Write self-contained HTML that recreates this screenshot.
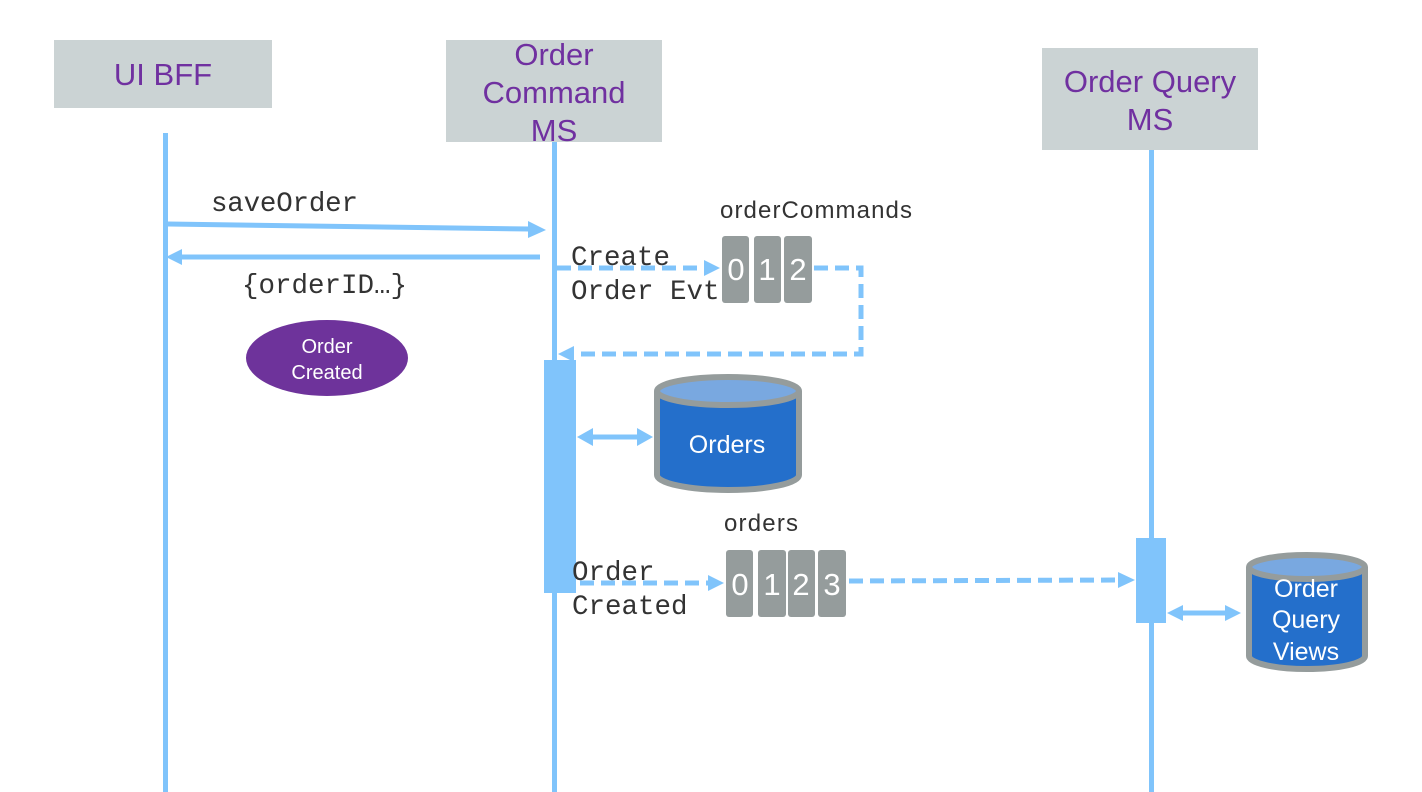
<!DOCTYPE html>
<html><head><meta charset="utf-8"><style>
html,body{margin:0;padding:0;background:#fff;}
svg{display:block}
.mono{font-family:"Liberation Mono",monospace;font-size:27.5px;fill:#333;}
.sans{font-family:"Liberation Sans",sans-serif;}
</style></head><body>
<svg width="1422" height="792" viewBox="0 0 1422 792" xmlns="http://www.w3.org/2000/svg">
<!-- header boxes -->
<rect x="54" y="40" width="218" height="68" fill="#cbd3d4"/>
<text x="163" y="85" class="sans" font-size="31" fill="#7030a0" text-anchor="middle">UI BFF</text>
<rect x="446" y="40" width="216" height="102" fill="#cbd3d4"/>
<text class="sans" font-size="31" fill="#7030a0" text-anchor="middle"><tspan x="554" y="65">Order</tspan><tspan x="554" y="103">Command</tspan><tspan x="554" y="141">MS</tspan></text>
<rect x="1042" y="48" width="216" height="102" fill="#cbd3d4"/>
<text class="sans" font-size="31" fill="#7030a0" text-anchor="middle"><tspan x="1150" y="92">Order Query</tspan><tspan x="1150" y="130">MS</tspan></text>
<!-- lifelines -->
<rect x="163" y="133" width="5" height="659" fill="#80c4fb"/>
<rect x="552" y="142" width="5" height="650" fill="#80c4fb"/>
<rect x="1149" y="150" width="5" height="642" fill="#80c4fb"/>
<!-- activations -->
<rect x="544" y="360" width="32" height="233" fill="#80c4fb"/>
<rect x="1136" y="538" width="30" height="85" fill="#80c4fb"/>
<!-- saveOrder -->
<line x1="168" y1="224" x2="530" y2="229" stroke="#80c4fb" stroke-width="5"/>
<polygon points="528,221 546,230 528,238" fill="#80c4fb"/>
<text x="211" y="211" class="mono" textLength="147">saveOrder</text>
<line x1="540" y1="257" x2="182" y2="257" stroke="#80c4fb" stroke-width="5"/>
<polygon points="182,249 166,257 182,265" fill="#80c4fb"/>
<text x="242" y="293" class="mono" textLength="165">{orderID…}</text>
<ellipse cx="327" cy="358" rx="81" ry="38" fill="#6e339b"/>
<text class="sans" font-size="20" fill="#fff" text-anchor="middle"><tspan x="327" y="353">Order</tspan><tspan x="327" y="379">Created</tspan></text>
<!-- create order evt -->
<text class="mono"><tspan x="571" y="265">Create</tspan><tspan x="571" y="299">Order Evt</tspan></text>
<line x1="557" y1="268" x2="706" y2="268" stroke="#80c4fb" stroke-width="5" stroke-dasharray="14,7"/>
<polygon points="704,260 720,268 704,276" fill="#80c4fb"/>
<text x="720" y="218" class="sans" font-size="24" fill="#333" textLength="192">orderCommands</text>
<g fill="#959c9c">
<rect x="722" y="236" width="27" height="67" rx="3"/>
<rect x="754" y="236" width="27" height="67" rx="3"/>
<rect x="784" y="236" width="28" height="67" rx="3"/>
</g>
<g class="sans" font-size="31" fill="#fff" text-anchor="middle">
<text x="736" y="280">0</text><text x="767" y="280">1</text><text x="798" y="280">2</text>
</g>
<polyline points="814,268 861,268 861,354 574,354" fill="none" stroke="#80c4fb" stroke-width="5" stroke-dasharray="14,7"/>
<polygon points="574,346 558,354 574,362" fill="#80c4fb"/>
<!-- Orders db -->
<line x1="590" y1="437" x2="640" y2="437" stroke="#80c4fb" stroke-width="5"/>
<polygon points="593,428 577,437 593,446" fill="#80c4fb"/>
<polygon points="637,428 653,437 637,446" fill="#80c4fb"/>
<path d="M657,391 L657,475 A71,15 0 0 0 799,475 L799,391" fill="#246fcb" stroke="#959c9c" stroke-width="6"/>
<ellipse cx="728" cy="391" rx="71" ry="14" fill="#79a8e0" stroke="#959c9c" stroke-width="6"/>
<text x="727" y="453" class="sans" font-size="25" fill="#fff" text-anchor="middle">Orders</text>
<!-- orders topic -->
<text x="724" y="531" class="sans" font-size="24" fill="#333" textLength="74">orders</text>
<text class="mono"><tspan x="572" y="580">Order</tspan><tspan x="572" y="614">Created</tspan></text>
<line x1="580" y1="583" x2="710" y2="583" stroke="#80c4fb" stroke-width="5" stroke-dasharray="14,7"/>
<polygon points="708,575 724,583 708,591" fill="#80c4fb"/>
<g fill="#959c9c">
<rect x="726" y="550" width="27" height="67" rx="3"/>
<rect x="758" y="550" width="28" height="67" rx="3"/>
<rect x="788" y="550" width="27" height="67" rx="3"/>
<rect x="818" y="550" width="28" height="67" rx="3"/>
</g>
<g class="sans" font-size="31" fill="#fff" text-anchor="middle">
<text x="740" y="595">0</text><text x="772" y="595">1</text><text x="801" y="595">2</text><text x="832" y="595">3</text>
</g>
<line x1="849" y1="581" x2="1120" y2="580" stroke="#80c4fb" stroke-width="5" stroke-dasharray="14,7"/>
<polygon points="1118,572 1135,580 1118,588" fill="#80c4fb"/>
<!-- query views -->
<line x1="1180" y1="613" x2="1226" y2="613" stroke="#80c4fb" stroke-width="5"/>
<polygon points="1183,605 1167,613 1183,621" fill="#80c4fb"/>
<polygon points="1225,605 1241,613 1225,621" fill="#80c4fb"/>
<path d="M1249,567 L1249,656 A58,13 0 0 0 1365,656 L1365,567" fill="#246fcb" stroke="#959c9c" stroke-width="6"/>
<ellipse cx="1307" cy="567" rx="58" ry="12" fill="#79a8e0" stroke="#959c9c" stroke-width="6"/>
<text class="sans" font-size="25" fill="#fff" text-anchor="middle"><tspan x="1306" y="597">Order</tspan><tspan x="1306" y="628">Query</tspan><tspan x="1306" y="660">Views</tspan></text>
</svg>
</body></html>
